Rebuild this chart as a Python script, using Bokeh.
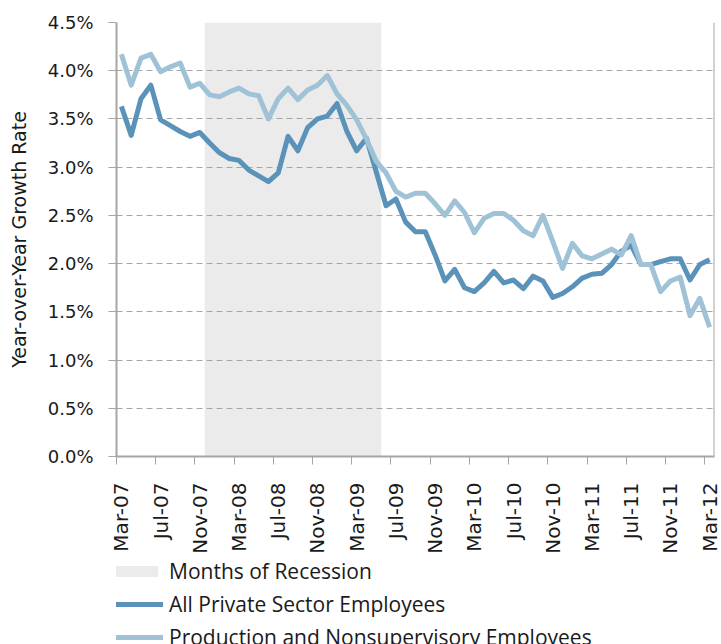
import math
import pandas as pd
from bokeh.plotting import figure
from bokeh.layouts import column
from bokeh.models import (Range1d, FixedTicker, PrintfTickFormatter, Span, Legend,
                          LegendItem, ColumnDataSource)
from bokeh.embed import file_html
from bokeh.resources import INLINE

# ---- data -------------------------------------------------------------
months = list(pd.date_range("2007-03-01", periods=61, freq="MS").strftime("%b-%y"))

all_private = [3.63, 3.33, 3.71, 3.85, 3.49, 3.43, 3.37, 3.32, 3.36, 3.25,
               3.15, 3.09, 3.07, 2.97, 2.91, 2.85, 2.94, 3.32, 3.17, 3.41,
               3.50, 3.53, 3.66, 3.37, 3.17, 3.30, 2.95, 2.60, 2.67, 2.43,
               2.33, 2.33, 2.09, 1.82, 1.94, 1.75, 1.71, 1.80, 1.92, 1.80,
               1.83, 1.74, 1.87, 1.82, 1.65, 1.69, 1.76, 1.85, 1.89, 1.90,
               1.99, 2.13, 2.19, 1.99, 1.99, 2.02, 2.05, 2.05, 1.83, 1.99,
               2.04]

production = [4.17, 3.85, 4.13, 4.17, 3.99, 4.04, 4.08, 3.83, 3.87, 3.75,
              3.73, 3.78, 3.82, 3.76, 3.74, 3.50, 3.71, 3.82, 3.70, 3.80,
              3.85, 3.95, 3.76, 3.64, 3.49, 3.29, 3.06, 2.94, 2.75, 2.69,
              2.73, 2.73, 2.62, 2.50, 2.65, 2.53, 2.32, 2.47, 2.52, 2.52,
              2.45, 2.34, 2.29, 2.50, 2.23, 1.95, 2.21, 2.08, 2.05, 2.10,
              2.15, 2.09, 2.29, 1.99, 1.99, 1.71, 1.82, 1.86, 1.46, 1.64,
              1.34]

recession_first = "Dec-07"
recession_last = "May-09"

series_names = ["All Private Sector Employees", "Production and Nonsupervisory Employees"]
recession_name = "Months of Recession"

y_ticks = [0.0, 0.5, 1.0, 1.5, 2.0, 2.5, 3.0, 3.5, 4.0, 4.5]
label_every = 4

DARK = "#5b92b9"
LIGHT = "#a0c2d7"
SHADE = "#ebebeb"
GRAY = "#a6a6a6"

idx = list(range(len(months)))
src = ColumnDataSource(dict(x=idx, allp=all_private, prod=production))
r0 = months.index(recession_first) - 0.5
r1 = months.index(recession_last) + 0.5

# ---- main chart -------------------------------------------------------
p = figure(width=721, height=556, output_backend="svg", toolbar_location=None,
           x_range=Range1d(-0.5, len(months) - 0.5), y_range=Range1d(y_ticks[0], y_ticks[-1]),
           min_border_left=116, min_border_right=7, min_border_top=22, min_border_bottom=96)
p.outline_line_color = None

p.quad(left=[r0], right=[r1], bottom=[y_ticks[0]], top=[y_ticks[-1]],
       fill_color=SHADE, line_color=None, level="image")
p.line("x", "allp", source=src, line_color=DARK, line_width=5, line_join="round")
p.line("x", "prod", source=src, line_color=LIGHT, line_width=5, line_join="round")

p.xgrid.visible = False
p.ygrid.ticker = FixedTicker(ticks=y_ticks)
p.ygrid.grid_line_color = GRAY
p.ygrid.grid_line_dash = "6 4"
p.ygrid.grid_line_width = 1

yax = p.yaxis[0]
yax.ticker = FixedTicker(ticks=y_ticks)
yax.formatter = PrintfTickFormatter(format="%.1f%%")
yax.axis_line_color = GRAY
yax.axis_line_width = 2
yax.major_tick_line_color = GRAY
yax.major_tick_out = 8
yax.major_tick_in = 0
yax.minor_tick_line_color = None
yax.major_label_standoff = 15
yax.major_label_text_font = "DejaVu Sans"
yax.major_label_text_font_size = "18px"
yax.major_label_text_color = "#1a1a1a"
yax.axis_label = "Year-over-Year Growth Rate"
yax.axis_label_text_font = "DejaVu Sans"
yax.axis_label_text_font_size = "19px"
yax.axis_label_text_font_style = "normal"
yax.axis_label_text_color = "#1a1a1a"
yax.axis_label_standoff = 15

xax = p.xaxis[0]
lab_idx = idx[::label_every]
xax.ticker = FixedTicker(ticks=lab_idx, minor_ticks=[i - 0.5 for i in lab_idx])
xax.major_label_overrides = {i: months[i] for i in lab_idx}
xax.major_label_orientation = math.pi / 2
xax.axis_line_color = GRAY
xax.axis_line_width = 2
xax.major_tick_line_color = None
xax.major_tick_out = 0
xax.major_tick_in = 0
xax.minor_tick_line_color = GRAY
xax.minor_tick_line_width = 1
xax.minor_tick_out = 8
xax.minor_tick_in = 0
xax.major_label_standoff = 18
xax.major_label_text_font = "DejaVu Sans"
xax.major_label_text_font_size = "20px"
xax.major_label_text_color = "#1a1a1a"

p.add_layout(Span(location=len(months) - 0.5, dimension="height", line_color=GRAY, line_width=2))

# ---- legend strip below (same data, drawn outside its visible range) ----
lg = figure(width=721, height=88, output_backend="svg", toolbar_location=None,
            x_range=Range1d(-0.5, len(months) - 0.5), y_range=Range1d(100, 101),
            x_axis_type=None, y_axis_type=None, min_border=0)
lg.outline_line_color = None
lg.xgrid.visible = False
lg.ygrid.visible = False
k_rec = lg.quad(left=[r0], right=[r1], bottom=[y_ticks[0]], top=[y_ticks[-1]],
                fill_color=SHADE, line_color=None)
k_dark = lg.line("x", "allp", source=src, line_color=DARK, line_width=5, line_cap="round")
k_light = lg.line("x", "prod", source=src, line_color=LIGHT, line_width=5, line_cap="round")

legend = Legend(items=[LegendItem(label=recession_name, renderers=[k_rec]),
                       LegendItem(label=series_names[0], renderers=[k_dark]),
                       LegendItem(label=series_names[1], renderers=[k_light])],
                location=(-6, -8), orientation="vertical",
                glyph_width=53, glyph_height=14, label_height=30, spacing=3,
                label_standoff=6, padding=0, margin=0,
                border_line_color=None, background_fill_alpha=0,
                label_text_font="Open Sans", label_text_font_size="21px",
                label_text_color="#1a1a1a")
lg.add_layout(legend, "center")

open("out.html", "w").write(file_html(column(p, lg, spacing=0), INLINE))
